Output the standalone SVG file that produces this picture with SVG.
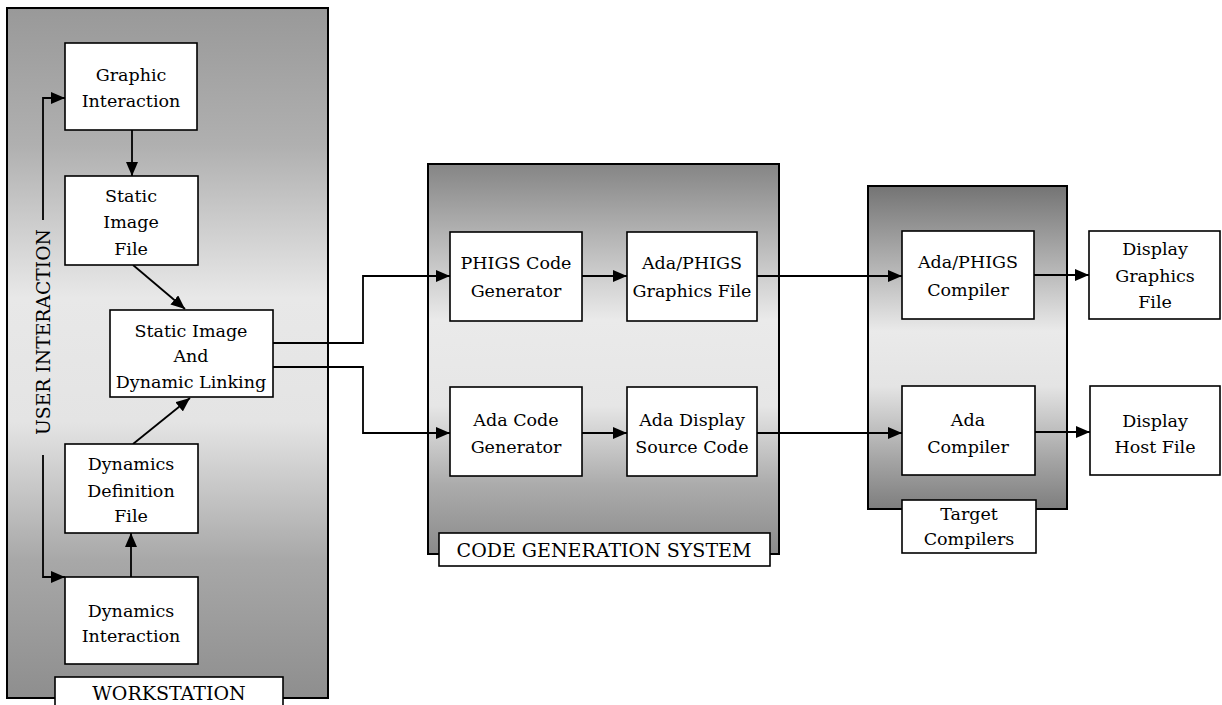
<svg xmlns="http://www.w3.org/2000/svg" width="1222" height="705" viewBox="0 0 1222 705">
<defs>
<linearGradient id="gWs" x1="0" y1="0" x2="0" y2="1">
<stop offset="0" stop-color="#999"/>
<stop offset="0.2" stop-color="#b0b0b0"/>
<stop offset="0.42" stop-color="#e8e8e8"/>
<stop offset="0.6" stop-color="#e4e4e4"/>
<stop offset="0.8" stop-color="#a8a8a8"/>
<stop offset="1" stop-color="#8e8e8e"/>
</linearGradient>
<linearGradient id="gCg" x1="0" y1="0" x2="0" y2="1">
<stop offset="0" stop-color="#858585"/>
<stop offset="0.2" stop-color="#b8b8b8"/>
<stop offset="0.4" stop-color="#eaeaea"/>
<stop offset="0.62" stop-color="#e6e6e6"/>
<stop offset="0.82" stop-color="#acacac"/>
<stop offset="1" stop-color="#8a8a8a"/>
</linearGradient>
<linearGradient id="gTc" x1="0" y1="0" x2="0" y2="1">
<stop offset="0" stop-color="#747474"/>
<stop offset="0.25" stop-color="#b4b4b4"/>
<stop offset="0.45" stop-color="#eaeaea"/>
<stop offset="0.62" stop-color="#e4e4e4"/>
<stop offset="0.85" stop-color="#a4a4a4"/>
<stop offset="1" stop-color="#7e7e7e"/>
</linearGradient>
<marker id="ah" viewBox="0 0 14 12" refX="14" refY="6" markerWidth="14" markerHeight="12" markerUnits="userSpaceOnUse" orient="auto">
<path d="M0,0 L14,6 L0,12 Z" fill="#000"/>
</marker>
</defs>
<style>
.panel{stroke:#000;stroke-width:2}
.box{fill:#fff;stroke:#000;stroke-width:1.6}
.ca{fill:none;stroke:#000;stroke-width:1.8;marker-end:url(#ah)}
.big{font-size:19px}
</style>
<rect width="1222" height="705" fill="#fff"/>

<g font-family="DejaVu Serif, Liberation Serif, serif" font-size="17.5" fill="#000" text-anchor="middle">

<g id="workstation">
<rect class="panel" x="7" y="8" width="321" height="690" fill="url(#gWs)"/>
<rect class="box" x="55" y="677" width="228" height="40"/>
<text class="big" x="169" y="700">WORKSTATION</text>
</g>

<g id="code-generation-system">
<rect class="panel" x="428" y="164" width="351" height="390" fill="url(#gCg)"/>
<rect class="box" x="439" y="533" width="331" height="33"/>
<text class="big" x="604" y="557">CODE GENERATION SYSTEM</text>
</g>

<g id="target-compilers">
<rect class="panel" x="868" y="186" width="199" height="323" fill="url(#gTc)"/>
<rect class="box" x="902" y="500" width="134" height="53"/>
<text x="969" y="520">Target</text>
<text x="969" y="545">Compilers</text>
</g>

<g id="user-interaction">
<text class="big" transform="translate(50,332) rotate(-90)" textLength="206" lengthAdjust="spacingAndGlyphs">USER INTERACTION</text>
</g>

<g id="connectors">
<path class="ca" d="M43,220 V98 H65"/>
<path class="ca" d="M43,455 V577 H65"/>
<path class="ca" d="M132,130 V176"/>
<path class="ca" d="M133,265 L185,309"/>
<path class="ca" d="M131,577 V533"/>
<path class="ca" d="M133,444 L190,398"/>
<path class="ca" d="M273,343 H363 V276 H450"/>
<path class="ca" d="M273,367 H363 V433 H450"/>
<path class="ca" d="M582,276 H627"/>
<path class="ca" d="M582,433 H627"/>
<path class="ca" d="M757,276 H902"/>
<path class="ca" d="M757,433 H902"/>
<path class="ca" d="M1034,275 H1089"/>
<path class="ca" d="M1035,432 H1090"/>
</g>

<g id="graphic-interaction">
<rect class="box" x="65" y="43" width="132" height="87"/>
<text x="131" y="81">Graphic</text>
<text x="131" y="107">Interaction</text>
</g>

<g id="static-image-file">
<rect class="box" x="65" y="176" width="133" height="89"/>
<text x="131" y="202">Static</text>
<text x="131" y="228">Image</text>
<text x="131" y="255">File</text>
</g>

<g id="static-image-dynamic-linking">
<rect class="box" x="110" y="310" width="163" height="87"/>
<text x="191" y="337">Static Image</text>
<text x="191" y="362">And</text>
<text x="191" y="388">Dynamic Linking</text>
</g>

<g id="dynamics-definition-file">
<rect class="box" x="65" y="444" width="133" height="89"/>
<text x="131" y="470">Dynamics</text>
<text x="131" y="497">Definition</text>
<text x="131" y="522">File</text>
</g>

<g id="dynamics-interaction">
<rect class="box" x="65" y="577" width="133" height="87"/>
<text x="131" y="617">Dynamics</text>
<text x="131" y="642">Interaction</text>
</g>

<g id="phigs-code-generator">
<rect class="box" x="450" y="232" width="132" height="89"/>
<text x="516" y="269">PHIGS Code</text>
<text x="516" y="297">Generator</text>
</g>

<g id="ada-phigs-graphics-file">
<rect class="box" x="627" y="232" width="130" height="89"/>
<text x="692" y="269">Ada/PHIGS</text>
<text x="692" y="297">Graphics File</text>
</g>

<g id="ada-code-generator">
<rect class="box" x="450" y="387" width="132" height="89"/>
<text x="516" y="426">Ada Code</text>
<text x="516" y="453">Generator</text>
</g>

<g id="ada-display-source-code">
<rect class="box" x="627" y="387" width="130" height="89"/>
<text x="692" y="426">Ada Display</text>
<text x="692" y="453">Source Code</text>
</g>

<g id="ada-phigs-compiler">
<rect class="box" x="902" y="231" width="132" height="88"/>
<text x="968" y="268">Ada/PHIGS</text>
<text x="968" y="296">Compiler</text>
</g>

<g id="ada-compiler">
<rect class="box" x="902" y="386" width="133" height="89"/>
<text x="968" y="426">Ada</text>
<text x="968" y="453">Compiler</text>
</g>

<g id="display-graphics-file">
<rect class="box" x="1089" y="231" width="131" height="88"/>
<text x="1155" y="255">Display</text>
<text x="1155" y="282">Graphics</text>
<text x="1155" y="308">File</text>
</g>

<g id="display-host-file">
<rect class="box" x="1090" y="386" width="130" height="89"/>
<text x="1155" y="427">Display</text>
<text x="1155" y="453">Host File</text>
</g>

</g>
</svg>
